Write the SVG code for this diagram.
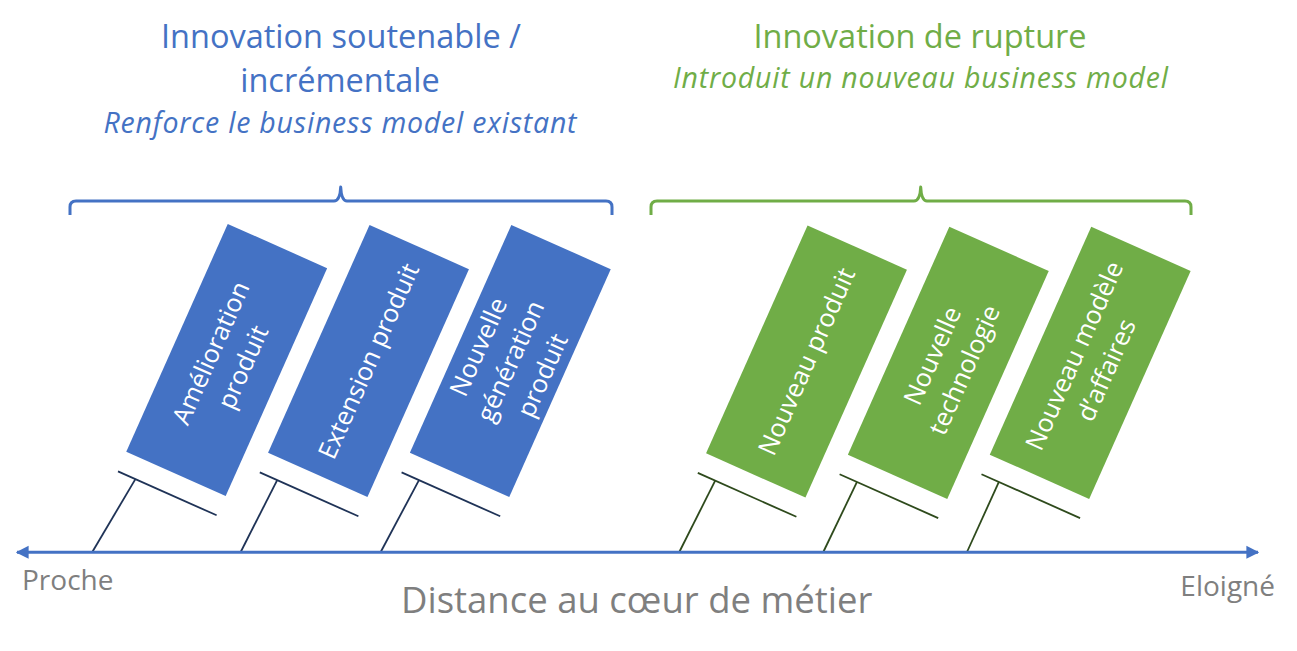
<svg xmlns="http://www.w3.org/2000/svg" width="1297" height="651" viewBox="0 0 1297 651">
<style>
.t{font-family:"Open Sans","Noto Sans","Liberation Sans",sans-serif;}
.blue{fill:#4472C4;}
.green{fill:#70AD47;}
.gray{fill:#7F7F7F;}
.box-b{fill:#4472C4;}
.box-g{fill:#70AD47;}
.lbl{font-family:"Open Sans","Noto Sans","Liberation Sans",sans-serif;font-size:25.5px;fill:#FFFFFF;text-anchor:middle;}
.brace-b{fill:none;stroke:#4472C4;stroke-width:3;stroke-linejoin:round;}
.brace-g{fill:none;stroke:#70AD47;stroke-width:3;stroke-linejoin:round;}
.stem-b{stroke:#1F3357;stroke-width:1.8;fill:none;}
.stem-g{stroke:#2E4A1C;stroke-width:1.8;fill:none;}
.axis{stroke:#4472C4;stroke-width:3;fill:none;}
</style>
<defs>
<marker id="arr" viewBox="0 0 10 10" refX="9" refY="5" markerWidth="4.3" markerHeight="4.6" orient="auto-start-reverse" markerUnits="strokeWidth">
<path d="M0,0 L10,5 L0,10 z" fill="#4472C4"/>
</marker>
</defs>
<rect width="1297" height="651" fill="#FFFFFF"/>

<g id="titles">
<text class="t blue" x="341" y="47.5" font-size="32.5" text-anchor="middle">Innovation soutenable /</text>
<text class="t blue" x="340" y="91.5" font-size="32.5" text-anchor="middle">incrémentale</text>
<text class="t blue" x="340" y="133.3" font-size="28.5" font-style="italic" text-anchor="middle" textLength="473" lengthAdjust="spacing">Renforce le business model existant</text>
<text class="t green" x="920" y="47.5" font-size="32.5" text-anchor="middle">Innovation de rupture</text>
<text class="t green" x="920.5" y="88.3" font-size="28.5" font-style="italic" text-anchor="middle" textLength="495" lengthAdjust="spacing">Introduit un nouveau business model</text>
</g>

<g id="braces">
<path class="brace-b" d="M70,215 L70,207 Q70,201 76,201 L334,201 Q340,201 340.7,187 Q341.4,201 347,201 L606,201 Q612,201 612,207 L612,215"/>
<path class="brace-g" d="M651,215 L651,207 Q651,201 657,201 L914,201 Q920,201 920.7,187 Q921.4,201 927,201 L1185,201 Q1191,201 1191,207 L1191,215"/>
</g>

<g id="connectors">
<line class="stem-b" x1="118" y1="471.4" x2="216.6" y2="515.3"/>
<line class="stem-b" x1="135.4" y1="479.1" x2="92.3" y2="552"/>
<line class="stem-b" x1="259.8" y1="472.4" x2="358.4" y2="516.3"/>
<line class="stem-b" x1="277.2" y1="480.1" x2="240.7" y2="552"/>
<line class="stem-b" x1="401.6" y1="472.4" x2="500.2" y2="516.3"/>
<line class="stem-b" x1="419" y1="480.1" x2="380.7" y2="552"/>
<line class="stem-g" x1="697.8" y1="472.9" x2="796.4" y2="516.8"/>
<line class="stem-g" x1="715.2" y1="480.6" x2="679.3" y2="552"/>
<line class="stem-g" x1="839.6" y1="474.2" x2="938.2" y2="518.1"/>
<line class="stem-g" x1="857" y1="481.9" x2="823.3" y2="552"/>
<line class="stem-g" x1="981.5" y1="474.2" x2="1080.1" y2="518.1"/>
<line class="stem-g" x1="998.9" y1="481.9" x2="967" y2="552"/>
<line class="axis" x1="17" y1="552.3" x2="1258" y2="552.3" marker-start="url(#arr)" marker-end="url(#arr)"/>
</g>

<g id="node-amelioration" transform="translate(226.7,360) rotate(-66)">
<rect class="box-b" x="-124.75" y="-54.4" width="249.5" height="108.8"/>
<text class="lbl" x="0" y="-8.5">Amélioration</text>
<text class="lbl" x="0" y="26.5">produit</text>
</g>
<g id="node-extension" transform="translate(368.5,361) rotate(-66)">
<rect class="box-b" x="-124.75" y="-54.4" width="249.5" height="108.8"/>
<text class="lbl" x="0" y="9">Extension produit</text>
</g>
<g id="node-nouvelle-generation" transform="translate(510.3,361) rotate(-66)">
<rect class="box-b" x="-124.75" y="-54.4" width="249.5" height="108.8"/>
<text class="lbl" x="0" y="-26">Nouvelle</text>
<text class="lbl" x="0" y="9">génération</text>
<text class="lbl" x="0" y="44">produit</text>
</g>
<g id="node-nouveau-produit" transform="translate(806.5,361.5) rotate(-66)">
<rect class="box-g" x="-124.75" y="-54.4" width="249.5" height="108.8"/>
<text class="lbl" x="0" y="9">Nouveau produit</text>
</g>
<g id="node-nouvelle-technologie" transform="translate(948.3,362.8) rotate(-66)">
<rect class="box-g" x="-124.75" y="-54.4" width="249.5" height="108.8"/>
<text class="lbl" x="0" y="-8.5">Nouvelle</text>
<text class="lbl" x="0" y="26.5">technologie</text>
</g>
<g id="node-nouveau-modele" transform="translate(1090.2,362.8) rotate(-66)">
<rect class="box-g" x="-124.75" y="-54.4" width="249.5" height="108.8"/>
<text class="lbl" x="0" y="-8.5">Nouveau modèle</text>
<text class="lbl" x="0" y="26.5">d’affaires</text>
</g>

<g id="axis-labels">
<text class="t gray" x="22" y="590" font-size="28">Proche</text>
<text class="t gray" x="1275" y="596" font-size="28" text-anchor="end">Eloigné</text>
<text class="t gray" x="636.7" y="612.7" font-size="36.5" text-anchor="middle">Distance au cœur de métier</text>
</g>
</svg>
